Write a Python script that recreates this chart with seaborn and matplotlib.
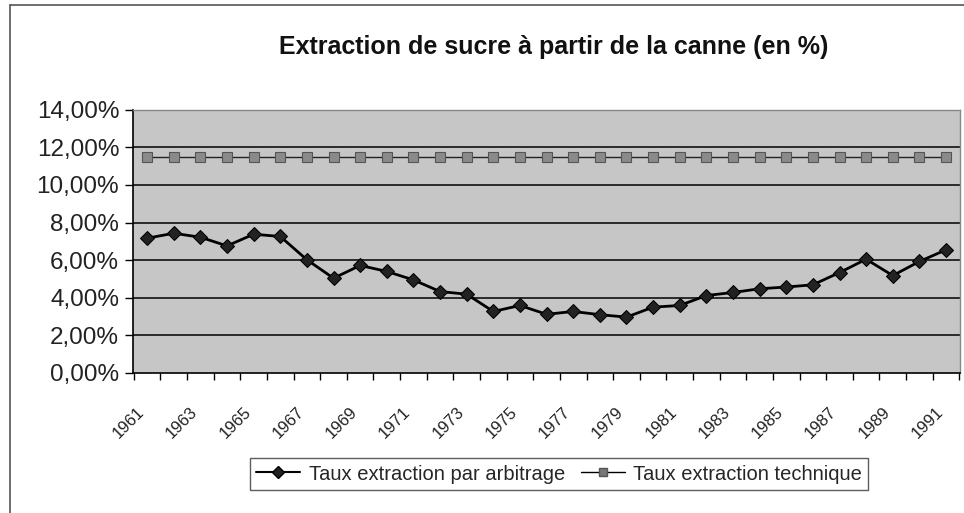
import matplotlib
matplotlib.use("Agg")
import matplotlib.pyplot as plt
from matplotlib.lines import Line2D
from matplotlib.ticker import FuncFormatter, MultipleLocator, FixedLocator
import pandas as pd
import seaborn as sns

years = list(range(1961, 1992))
taux_arbitrage = [7.17, 7.43, 7.22, 6.76, 7.38, 7.26, 6.02, 5.04, 5.72, 5.40,
                  4.95, 4.33, 4.19, 3.27, 3.59, 3.12, 3.27, 3.10, 2.97, 3.50,
                  3.59, 4.12, 4.28, 4.48, 4.57, 4.69, 5.34, 6.05, 5.18, 5.93,
                  6.55]
taux_technique = [11.5] * len(years)
label_years = list(range(1961, 1992, 2))

df = pd.DataFrame({"annee": years, "arbitrage": taux_arbitrage,
                   "technique": taux_technique})

sns.set_style("white")
plt.rcParams["font.family"] = ["Liberation Sans", "DejaVu Sans"]

fig = plt.figure(figsize=(9.64, 5.13), dpi=100)
ax = fig.add_axes([0.138, 0.273, 0.858, 0.513])
ax.set_facecolor("#c6c6c6")

# horizontal gridlines
for v in range(2, 14, 2):
    ax.axhline(v, color="black", lw=1.1, zorder=1)

sns.lineplot(data=df, x="annee", y="technique", ax=ax, color="#222222",
             lw=1.0, marker="s", markersize=7.5, markerfacecolor="#8a8a8a",
             markeredgecolor="#555555", markeredgewidth=0.8, zorder=3)
sns.lineplot(data=df, x="annee", y="arbitrage", ax=ax, color="black",
             lw=2.0, marker="D", markersize=7.5, markerfacecolor="#222222",
             markeredgecolor="black", zorder=4)

ax.set_xlim(1960.47, 1991.53)
ax.set_ylim(0, 14)
ax.set_xlabel("")
ax.set_ylabel("")

ax.yaxis.set_major_locator(MultipleLocator(2))
ax.yaxis.set_major_formatter(
    FuncFormatter(lambda v, p: f"{v:.2f}%".replace(".", ",")))
ax.tick_params(axis="y", labelsize=17.5, length=6, width=1, color="black",
               direction="out", pad=4, left=True, labelcolor="#222222")

# year labels every two years, tick marks between categories (Excel style)
ax.xaxis.set_major_locator(FixedLocator(label_years))
ax.set_xticklabels([str(y) for y in label_years], rotation=45, ha="right",
                   va="bottom", rotation_mode="anchor")
ax.xaxis.set_minor_locator(FixedLocator([y + 0.5 for y in range(1960, 1992)]))
ax.tick_params(axis="x", which="major", length=0, labelsize=12, pad=30,
               labelcolor="#222222")
ax.tick_params(axis="x", which="minor", length=5, width=1, color="black",
               direction="out", bottom=True)

for side in ["left", "bottom"]:
    ax.spines[side].set_color("black")
    ax.spines[side].set_linewidth(1.2)
for side in ["top", "right"]:
    ax.spines[side].set_color("#888888")
    ax.spines[side].set_linewidth(1.0)

fig.text(0.574, 0.908, "Extraction de sucre à partir de la canne (en %)",
         ha="center", va="center", fontsize=18, fontweight="bold",
         color="#111111")

handles = [
    Line2D([], [], color="black", lw=1.5, marker="D", markersize=6,
           markerfacecolor="#222222"),
    Line2D([], [], color="black", lw=1.0, marker="s", markersize=6,
           markerfacecolor="#777777", markeredgecolor="#555555"),
]
leg = fig.legend(handles, ["Taux extraction par arbitrage",
                           "Taux extraction technique"],
                 loc="center", bbox_to_anchor=(0.58, 0.076), ncol=2,
                 fontsize=14.5, frameon=True, fancybox=False, shadow=False,
                 handlelength=2.2, columnspacing=0.8, handletextpad=0.4,
                 borderpad=0.3, borderaxespad=0)
leg.get_frame().set_edgecolor("#333333")
leg.get_frame().set_linewidth(1.0)

# outer chart frame (left and top edges visible in the scan)
fig.add_artist(Line2D([0.0105, 0.0105], [0.0, 0.99], color="#555555",
                      lw=1.2, transform=fig.transFigure))
fig.add_artist(Line2D([0.0105, 1.0], [0.99, 0.99], color="#555555",
                      lw=1.2, transform=fig.transFigure))

fig.savefig("out.png", dpi=100)
